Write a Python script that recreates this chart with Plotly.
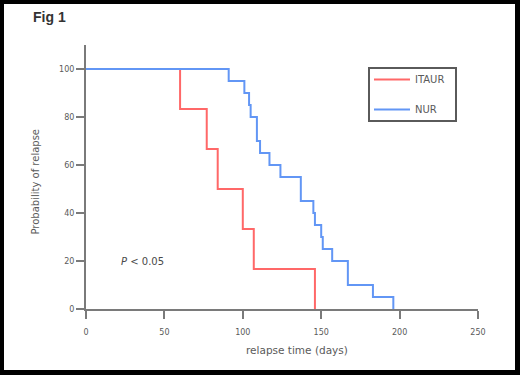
import plotly.graph_objects as go

# Kaplan-Meier style step data (time in days, probability in %)
itaur_days = [0, 60, 77, 84, 100, 107, 146]
itaur_prob = [100, 83.3, 66.7, 50, 33.3, 16.7, 0]

nur_days = [0, 91, 101, 104, 105, 109, 111, 117, 124, 137, 145, 146, 150, 151, 157, 167, 183, 196]
nur_prob = [100, 95, 90, 85, 80, 70, 65, 60, 55, 45, 40, 35, 30, 25, 20, 10, 5, 0]

x_ticks = [0, 50, 100, 150, 200, 250]
y_ticks = [0, 20, 40, 60, 80, 100]

FONT = "DejaVu Sans"
AX = "#7a7a7a"
TXT = "#5a5a5a"

fig = go.Figure()
fig.add_trace(go.Scatter(x=itaur_days, y=itaur_prob, mode="lines", name="ITAUR",
                         line=dict(color="#ff6868", width=2, shape="hv"), legendgroup="a"))
fig.add_trace(go.Scatter(x=nur_days, y=nur_prob, mode="lines", name="NUR",
                         line=dict(color="#6296f5", width=2, shape="hv"), legendgroup="b"))

W, H = 520, 375
ml, mr, mt, mb = 86, 42, 45, 66
pw, ph = W - ml - mr, H - mt - mb

def px(x):
    return (x - ml) / pw

def py(y):
    return (H - mb - y) / ph

fig.update_layout(
    width=W, height=H,
    margin=dict(l=ml, r=mr, t=mt, b=mb, pad=0),
    paper_bgcolor="white", plot_bgcolor="white",
    font=dict(family=FONT, color=TXT, size=9),
    showlegend=True,
    legend=dict(x=px(369), y=py(65), xanchor="left", yanchor="top",
                borderwidth=0, bgcolor="rgba(0,0,0,0)",
                font=dict(family=FONT, size=10, color=TXT),
                tracegroupgap=11, itemwidth=36),
    xaxis=dict(range=[0, 250], tickvals=x_ticks, showgrid=False, zeroline=False,
               showline=True, linecolor=AX, linewidth=2,
               ticks="outside", ticklen=8, tickwidth=2, tickcolor=AX,
               ticklabelstandoff=6,
               tickfont=dict(family=FONT, size=8, color=TXT)),
    yaxis=dict(range=[0, 110], tickvals=y_ticks, showgrid=False, zeroline=False,
               showline=True, linecolor=AX, linewidth=2,
               ticks="outside", ticklen=8, tickwidth=2, tickcolor=AX,
               tickfont=dict(family=FONT, size=8, color=TXT)),
)

# axis titles
fig.add_annotation(xref="paper", yref="paper", x=px(296.5), y=py(350), xanchor="center", yanchor="middle",
                   showarrow=False, text="relapse time (days)",
                   font=dict(family=FONT, size=10.5, color=TXT))
fig.add_annotation(xref="paper", yref="paper", x=px(35), y=py(181.5), xanchor="center", yanchor="middle",
                   showarrow=False, text="Probability of relapse", textangle=-90,
                   font=dict(family=FONT, size=10, color=TXT))

fig.add_annotation(x=21, y=19.7, xanchor="left", yanchor="middle", showarrow=False,
                   text="<i>P</i> < 0.05", font=dict(family=FONT, size=10, color="#4a4a4a"))
fig.add_annotation(xref="paper", yref="paper", x=px(31), y=py(17.5), xanchor="left", yanchor="middle",
                   showarrow=False, text="<b>Fig 1</b>",
                   font=dict(family="Liberation Sans", size=14, color="#333333"))

# legend box
fig.add_shape(type="rect", xref="paper", yref="paper",
              x0=px(369), x1=px(456), y0=py(121), y1=py(68),
              line=dict(color="#5a5a5a", width=2), fillcolor="rgba(0,0,0,0)", layer="above")

# black frame around the figure (four filled bands)
frame = [(0, 0, W, 4), (0, H - 5, W, H), (0, 0, 4, H), (W - 5, 0, W, H)]
for x0, y0, x1, y1 in frame:
    fig.add_shape(type="rect", xref="paper", yref="paper",
                  x0=px(x0), x1=px(x1), y0=py(y1), y1=py(y0),
                  line=dict(width=0), fillcolor="black", layer="above")

fig.write_html("out.html", config={"displayModeBar": False},
               post_script="document.body.style.margin='0';document.body.style.overflow='hidden';")
